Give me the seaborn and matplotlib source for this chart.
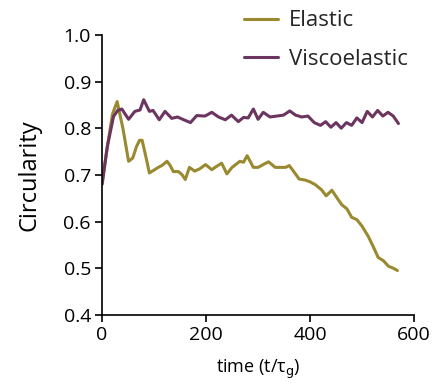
import matplotlib
matplotlib.use('Agg')
import numpy as np
import pandas as pd
import matplotlib.pyplot as plt
import seaborn as sns

# time points (t/tau_g)
t_elastic = [0, 10, 20, 29, 40, 51, 59, 66, 72, 77, 84, 91, 101, 108, 115, 125, 131, 137, 147,
             154, 160, 168, 178, 188, 199, 211, 220, 230, 240, 250, 265, 272, 279, 291, 300,
             310, 320, 333, 345, 353, 360, 370, 379, 390, 400, 410, 422, 431, 442, 451, 461,
             471, 480, 490, 500, 512, 522, 531, 541, 551, 560, 568]
circ_elastic = [0.68, 0.76, 0.83, 0.857, 0.80, 0.729, 0.736, 0.76, 0.774, 0.774, 0.74, 0.704,
                0.711, 0.716, 0.72, 0.729, 0.72, 0.707, 0.707, 0.70, 0.69, 0.716, 0.708, 0.713,
                0.722, 0.711, 0.718, 0.725, 0.702, 0.716, 0.729, 0.727, 0.741, 0.716, 0.716,
                0.722, 0.728, 0.716, 0.716, 0.716, 0.72, 0.705, 0.691, 0.689, 0.685, 0.679,
                0.668, 0.655, 0.667, 0.652, 0.636, 0.627, 0.609, 0.604, 0.59, 0.568, 0.545,
                0.523, 0.516, 0.504, 0.50, 0.495]

t_visco = [0, 10, 22, 30, 38, 51, 63, 73, 80, 91, 98, 110, 121, 134, 145, 157, 170, 182, 198,
           211, 224, 237, 249, 262, 272, 281, 291, 300, 310, 323, 336, 349, 361, 372, 384, 396,
           408, 420, 430, 440, 450, 460, 470, 480, 490, 500, 510, 520, 530, 540, 550, 560, 570]
circ_visco = [0.68, 0.76, 0.825, 0.838, 0.841, 0.819, 0.836, 0.839, 0.861, 0.836, 0.838, 0.818,
              0.836, 0.821, 0.824, 0.818, 0.812, 0.827, 0.826, 0.834, 0.824, 0.818, 0.828,
              0.814, 0.823, 0.822, 0.841, 0.819, 0.834, 0.824, 0.826, 0.828, 0.837, 0.828,
              0.824, 0.826, 0.812, 0.806, 0.814, 0.802, 0.812, 0.800, 0.812, 0.806, 0.822,
              0.812, 0.836, 0.824, 0.838, 0.826, 0.834, 0.826, 0.810]

df = pd.concat([
    pd.DataFrame({"time": t_elastic, "circ": circ_elastic, "model": "Elastic"}),
    pd.DataFrame({"time": t_visco, "circ": circ_visco, "model": "Viscoelastic"}),
])

sns.set_style("ticks")
plt.rcParams['font.family'] = ['Open Sans', 'DejaVu Sans']

fig = plt.figure(figsize=(4.4, 3.83), dpi=100)
ax = fig.add_axes([0.232, 0.178, 0.709, 0.731])

sns.lineplot(data=df, x="time", y="circ", hue="model",
             palette={"Elastic": "#998a30", "Viscoelastic": "#6c3560"},
             linewidth=2.2, ax=ax, legend=True)

ax.set_xlim(0, 600)
ax.set_ylim(0.4, 1.0)
ax.set_xticks([0, 200, 400, 600])
ax.set_yticks(np.arange(0.4, 1.01, 0.1))
ax.set_yticklabels(["0.4", "0.5", "0.6", "0.7", "0.8", "0.9", "1.0"])
ax.tick_params(labelsize=14, length=5, width=1.2, color="black", labelcolor="black", pad=3)
for s in ["left", "bottom"]:
    ax.spines[s].set_linewidth(1.2)
    ax.spines[s].set_color("black")
sns.despine(ax=ax)

ax.set_xlabel("time (t/τ$_{\\mathrm{g}}$)", fontsize=13, labelpad=10, color="black")
ax.set_ylabel("Circularity", fontsize=17, labelpad=16, color="black")

handles, labels = ax.get_legend_handles_labels()
ax.legend(handles, labels, loc="upper left", bbox_to_anchor=(0.51, 1.025),
          bbox_transform=fig.transFigure, frameon=False, fontsize=16,
          handlelength=1.5, handletextpad=0.5, labelspacing=0.8)

fig.savefig("out.png", dpi=100)
